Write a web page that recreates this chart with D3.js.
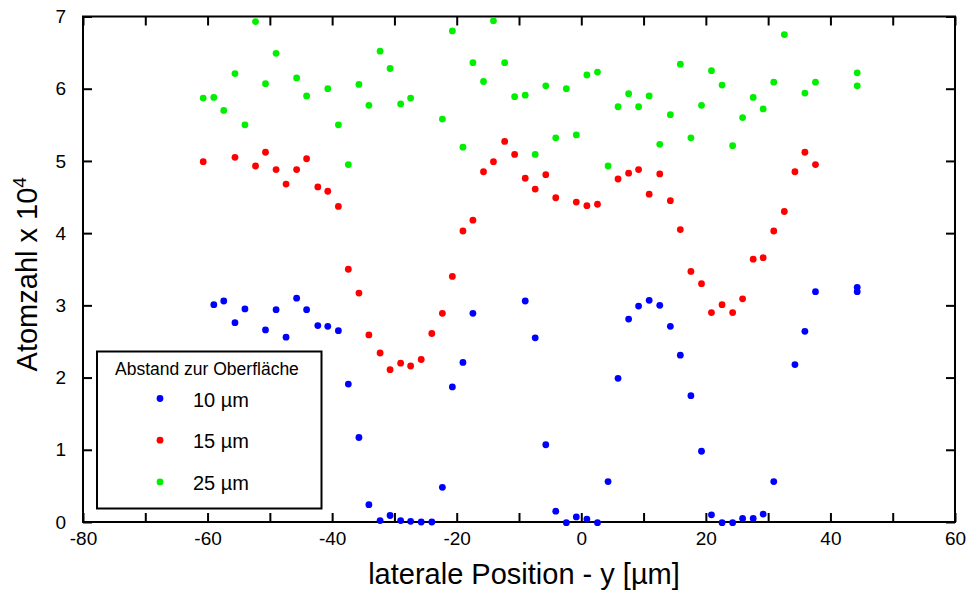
<!DOCTYPE html>
<html lang="de">
<head>
    <meta charset="UTF-8">
    <title>Atomzahl vs. laterale Position</title>
    <script src="https://d3js.org/d3.v7.min.js"></script>
    <style>
        body {
            margin: 0;
            background: #fff;
            font-family: "Liberation Sans", Arial, Helvetica, sans-serif;
        }
        .tick text {
            font-size: 19px;
            fill: #000;
        }
        .axis-title {
            font-size: 29px;
            fill: #000;
        }
    </style>
</head>
<body>
    <div id="chart"></div>
    <script>
        // Abstand zur Oberfläche: 10 µm (blau)
        const series10 = [
            [-59.0, 3.01], [-57.4, 3.06], [-55.6, 2.76], [-54.0, 2.95], [-50.7, 2.66],
            [-49.0, 2.94], [-47.4, 2.56], [-45.7, 3.10], [-44.1, 2.94], [-42.3, 2.72],
            [-40.7, 2.71], [-39.0, 2.65], [-37.4, 1.91], [-35.7, 1.17], [-34.1, 0.24],
            [-32.3, 0.02], [-30.7, 0.09], [-29.0, 0.02], [-27.4, 0.01], [-25.7, 0.0],
            [-24.0, 0.0], [-22.3, 0.48], [-20.7, 1.87], [-19.0, 2.21], [-17.4, 2.89],
            [-9.0, 3.06], [-7.4, 2.55], [-5.7, 1.07], [-4.1, 0.15], [-2.4, -0.01],
            [-0.8, 0.07], [0.9, 0.04], [2.6, -0.01], [4.3, 0.56], [5.9, 1.99],
            [7.6, 2.81], [9.2, 2.99], [10.9, 3.07], [12.6, 3.00], [14.3, 2.71],
            [15.9, 2.31], [17.6, 1.75], [19.3, 0.98], [20.9, 0.10], [22.6, -0.01],
            [24.3, -0.01], [25.9, 0.05], [27.6, 0.05], [29.2, 0.11], [30.9, 0.56],
            [34.3, 2.18], [35.9, 2.64], [37.6, 3.19], [44.3, 3.25], [44.3, 3.19]
        ];

        // 15 µm (rot)
        const series15 = [
            [-60.7, 4.99], [-55.6, 5.05], [-52.3, 4.93], [-50.7, 5.12], [-49.0, 4.88],
            [-47.4, 4.68], [-45.7, 4.88], [-44.1, 5.03], [-42.3, 4.64], [-40.7, 4.58],
            [-39.0, 4.37], [-37.4, 3.50], [-35.7, 3.17], [-34.1, 2.59], [-32.3, 2.34],
            [-30.7, 2.11], [-29.0, 2.20], [-27.4, 2.16], [-25.7, 2.25], [-24.0, 2.61],
            [-22.3, 2.89], [-20.7, 3.40], [-19.0, 4.03], [-17.4, 4.18], [-15.7, 4.85],
            [-14.1, 4.99], [-12.3, 5.27], [-10.7, 5.09], [-9.0, 4.76], [-7.4, 4.61],
            [-5.7, 4.81], [-4.1, 4.49], [-0.8, 4.43], [0.9, 4.38], [2.6, 4.40],
            [5.9, 4.75], [7.6, 4.83], [9.2, 4.88], [10.9, 4.54], [12.6, 4.82],
            [14.3, 4.45], [15.9, 4.05], [17.6, 3.47], [19.3, 3.30], [20.9, 2.90],
            [22.6, 3.01], [24.3, 2.90], [25.9, 3.09], [27.6, 3.64], [29.2, 3.66],
            [30.9, 4.03], [32.6, 4.30], [34.3, 4.85], [35.9, 5.12], [37.6, 4.95]
        ];

        // 25 µm (grün)
        const series25 = [
            [-60.7, 5.87], [-59.0, 5.88], [-57.4, 5.70], [-55.6, 6.21], [-54.0, 5.50],
            [-52.3, 6.93], [-50.7, 6.07], [-49.0, 6.49], [-45.7, 6.15], [-44.1, 5.90],
            [-40.7, 6.00], [-39.0, 5.50], [-37.4, 4.95], [-35.7, 6.06], [-34.1, 5.77],
            [-32.3, 6.52], [-30.7, 6.28], [-29.0, 5.79], [-27.4, 5.87], [-22.3, 5.58],
            [-20.7, 6.80], [-19.0, 5.19], [-17.4, 6.36], [-15.7, 6.10], [-14.1, 6.94],
            [-12.3, 6.36], [-10.7, 5.89], [-9.0, 5.91], [-7.4, 5.09], [-5.7, 6.04],
            [-4.1, 5.32], [-2.4, 6.00], [-0.8, 5.36], [0.9, 6.19], [2.6, 6.23],
            [4.3, 4.93], [5.9, 5.75], [7.6, 5.93], [9.2, 5.75], [10.9, 5.90],
            [12.6, 5.23], [14.3, 5.64], [15.9, 6.34], [17.6, 5.32], [19.3, 5.77],
            [20.9, 6.25], [22.6, 6.05], [24.3, 5.21], [25.9, 5.60], [27.6, 5.88],
            [29.2, 5.72], [30.9, 6.09], [32.6, 6.75], [35.9, 5.94], [37.6, 6.09],
            [44.3, 6.22], [44.3, 6.04]
        ];

        const seriesNames = ['10 µm', '15 µm', '25 µm'];
        const seriesColors = ['#0000ff', '#ff0000', '#00f000'];
        const xTicks = d3.range(-80, 61, 10);
        const yTicks = d3.range(0, 8, 1);

        const width = 968, height = 594;
        const margin = {top: 16.5, right: 13, bottom: 72, left: 83};

        const svg = d3.select('#chart').append('svg')
            .attr('width', width)
            .attr('height', height);

        const x = d3.scaleLinear().domain([-80, 60]).range([margin.left, width - margin.right]);
        const y = d3.scaleLinear().domain([0, 7]).range([height - margin.bottom, margin.top]);

        // ticks point inwards on all four sides
        const tick = -9;
        const xFmt = d => (d % 20 === 0 ? d : '');

        svg.append('g')
            .attr('transform', `translate(0,${y(0)})`)
            .call(d3.axisBottom(x).tickValues(xTicks).tickSize(tick).tickSizeOuter(0).tickPadding(10).tickFormat(xFmt));

        svg.append('g')
            .attr('transform', `translate(0,${y(7)})`)
            .call(d3.axisTop(x).tickValues(xTicks).tickSize(tick).tickSizeOuter(0).tickFormat(''));

        svg.append('g')
            .attr('transform', `translate(${x(-80)},0)`)
            .call(d3.axisLeft(y).tickValues(yTicks).tickSize(tick).tickSizeOuter(0).tickPadding(17).tickFormat(d3.format('d')));

        svg.append('g')
            .attr('transform', `translate(${x(60)},0)`)
            .call(d3.axisRight(y).tickValues(yTicks).tickSize(tick).tickSizeOuter(0).tickFormat(''));

        svg.selectAll('.domain').remove();
        svg.selectAll('.tick line').attr('stroke', '#000').attr('stroke-width', 2);

        // frame
        svg.append('rect')
            .attr('x', x(-80))
            .attr('y', y(7))
            .attr('width', x(60) - x(-80))
            .attr('height', y(0) - y(7))
            .attr('fill', 'none')
            .attr('stroke', '#000')
            .attr('stroke-width', 2);

        // points
        [series10, series15, series25].forEach((s, i) => {
            svg.append('g')
                .selectAll('circle')
                .data(s)
                .enter()
                .append('circle')
                .attr('cx', d => x(d[0]))
                .attr('cy', d => y(d[1]))
                .attr('r', 3.4)
                .attr('fill', seriesColors[i]);
        });

        // axis titles
        svg.append('text')
            .attr('class', 'axis-title')
            .attr('x', (x(-80) + x(60)) / 2 + 5)
            .attr('y', 584)
            .attr('text-anchor', 'middle')
            .text('laterale Position - y [µm]');

        const yTitle = svg.append('text')
            .attr('class', 'axis-title')
            .attr('transform', `translate(37,${(y(0) + y(7)) / 2 + 5}) rotate(-90)`)
            .attr('text-anchor', 'middle');
        yTitle.append('tspan').text('Atomzahl x 10');
        yTitle.append('tspan').attr('dy', -11).attr('font-size', 19).text('4');

        // legend
        const legend = svg.append('g').attr('transform', 'translate(97,351.5)');
        legend.append('rect')
            .attr('width', 224.5)
            .attr('height', 157)
            .attr('fill', '#fff')
            .attr('stroke', '#000')
            .attr('stroke-width', 2);
        legend.append('text')
            .attr('x', 18)
            .attr('y', 23)
            .attr('font-size', 17.5)
            .text('Abstand zur Oberfläche');

        const items = legend.selectAll('.item')
            .data(seriesNames)
            .enter()
            .append('g')
            .attr('class', 'item')
            .attr('transform', (d, i) => `translate(0,${47 + i * 41.7})`);
        items.append('circle')
            .attr('cx', 63)
            .attr('cy', 0)
            .attr('r', 3.4)
            .attr('fill', (d, i) => seriesColors[i]);
        items.append('text')
            .attr('x', 96)
            .attr('y', 8)
            .attr('font-size', 20)
            .text(d => d);
    </script>
</body>
</html>
